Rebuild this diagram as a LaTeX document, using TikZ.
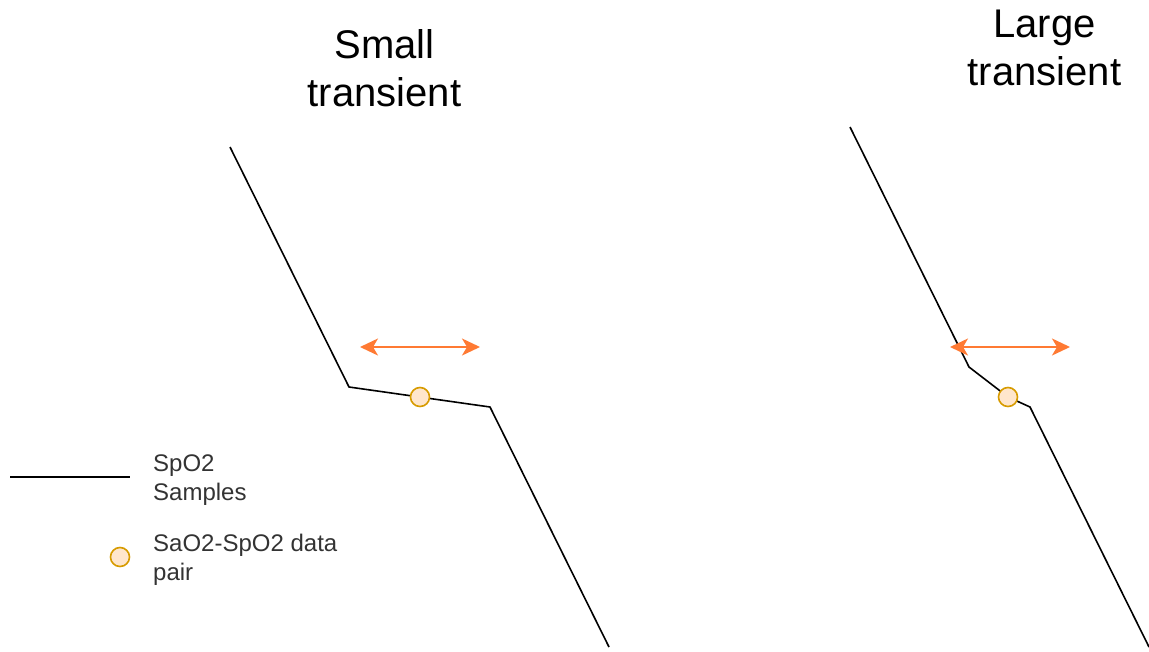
\documentclass[tikz,border=0pt]{standalone}
\usepackage{fontspec}
\setmainfont{Liberation Sans}
\usetikzlibrary{arrows.meta}
\definecolor{spanorange}{HTML}{FF7A33}
\definecolor{pairfill}{HTML}{FFE6CC}
\definecolor{pairdraw}{HTML}{D79B00}
\definecolor{legendtext}{HTML}{333333}
\begin{document}
\begin{tikzpicture}[x=1pt,y=-1pt,
  trace/.style={line width=1.6pt, line join=round},
  pairdot/.style={circle, draw=pairdraw, fill=pairfill, line width=1.6pt,
    minimum size=19pt, inner sep=0pt},
  spanarrow/.style={draw=spanorange, line width=2pt,
    {Stealth[length=18pt,width=17pt,inset=5pt]}-{Stealth[length=18pt,width=17pt,inset=5pt]}},
  heading/.style={font=\fontsize{40}{48}\selectfont, align=center, inner sep=0pt},
  legendlabel/.style={font=\fontsize{24}{29}\selectfont, align=left,
    text=legendtext, anchor=north west, inner sep=0pt}]
\useasboundingbox (0,0) rectangle (1149,651);

% headings
\node[heading] (titleS) at (384.5,68.5) {Small\\transient};
\node[heading] (titleL) at (1044.5,47.5) {Large\\transient};

% small transient trace
\coordinate (a1) at (230,147);
\coordinate (a2) at (349,387);
\coordinate (a3) at (490,407);
\coordinate (a4) at (609,647);
\draw[trace] (a1) -- (a2) -- (a3) -- (a4);
\node[pairdot] (p1) at (420,397) {};
\coordinate (s1l) at (360,347);
\coordinate (s1r) at (480,347);
\draw[spanarrow] (s1l) -- (s1r);

% large transient trace
\coordinate (b1) at (850,127);
\coordinate (b2) at (969,367);
\coordinate (b3) at (1008,397);
\coordinate (b4) at (1030,407);
\coordinate (b5) at (1149,647);
\draw[trace] (b1) -- (b2) -- (b3) -- (b4) -- (b5);
\node[pairdot] (p2) at (b3) {};
\coordinate (s2l) at (950,347);
\coordinate (s2r) at (1070,347);
\draw[spanarrow] (s2l) -- (s2r);

% legend
\coordinate (l1) at (10,477);
\coordinate (l2) at (130,477);
\draw[trace] (l1) -- (l2);
\node[legendlabel] (lt1) at (153,455) {SpO2\\Samples};
\node[pairdot] (lp) at (120,557) {};
\node[legendlabel] (lt2) at (153,534) {SaO2-SpO2 data\\pair};
\end{tikzpicture}
\end{document}
